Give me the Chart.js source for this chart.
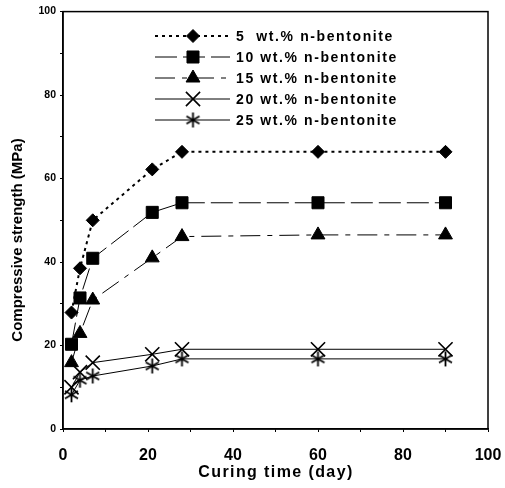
<!DOCTYPE html>
<html>
<head>
<meta charset="utf-8">
<script src="https://cdn.jsdelivr.net/npm/chart.js@4.4.1/dist/chart.umd.min.js"></script>
<style>
  html, body { margin: 0; padding: 0; background: #fff; }
  #wrap { width: 505px; height: 488px; }
</style>
</head>
<body>
<div id="wrap"><canvas id="strengthChart" width="505" height="488"></canvas></div>
<script>
// Curing time (days) and compressive strength (MPa) per n-bentonite dose
const days = [2, 4, 7, 21, 28, 60, 90];
const labels = ['5  wt.% n-bentonite', '10 wt.% n-bentonite', '15 wt.% n-bentonite', '20 wt.% n-bentonite', '25 wt.% n-bentonite'];
const s5 = [27.9, 38.5, 50.0, 62.2, 66.4, 66.4, 66.4];
const s10 = [20.3, 31.4, 40.9, 51.9, 54.2, 54.2, 54.2];
const s15 = [15.9, 22.9, 30.9, 41.0, 46.1, 46.5, 46.5];
const s20 = [10.0, 13.6, 15.9, 17.9, 19.1, 19.1, 19.1];
const s25 = [8.2, 11.7, 12.7, 15.1, 16.8, 16.8, 16.8];
const xTitle = 'Curing time (day)';
const yTitle = 'Compressive strength (MPa)';

const FONT = '"Liberation Sans", Arial, sans-serif';

// asterisk marker (6 rays)
const star = document.createElement('canvas');
star.width = 17; star.height = 17;
(function () {
    const c = star.getContext('2d');
    c.strokeStyle = '#000';
    c.lineWidth = 1.8;
    c.beginPath();
    for (let k = 0; k < 3; k++) {
        const a = Math.PI / 2 + k * Math.PI / 3;
        c.moveTo(8.5 + Math.cos(a) * 7.5, 8.5 + Math.sin(a) * 7.5);
        c.lineTo(8.5 - Math.cos(a) * 7.5, 8.5 - Math.sin(a) * 7.5);
    }
    c.stroke();
})();

const pts = arr => arr.map((v, i) => ({ x: days[i], y: v }));

// plot frame + axis titles
const boxPlugin = {
    id: 'box',
    afterDraw(chart) {
        const { ctx, chartArea: a } = chart;
        ctx.save();
        ctx.strokeStyle = '#000';
        ctx.lineWidth = 1.5;
        ctx.strokeRect(a.left, a.top, a.right - a.left, a.bottom - a.top);

        ctx.fillStyle = '#000';
        ctx.textAlign = 'center';
        ctx.textBaseline = 'alphabetic';
        ctx.font = 'bold 16px ' + FONT;
        ctx.letterSpacing = '1.4px';
        ctx.fillText(xTitle, 276, 477);

        ctx.letterSpacing = '0px';
        ctx.font = 'bold 15px ' + FONT;
        ctx.translate(22, 240);
        ctx.rotate(-Math.PI / 2);
        ctx.fillText(yTitle, 0, 0);
        ctx.restore();
    }
};

const legendPlugin = {
    id: 'lineLegend',
    afterDraw(chart) {
        const ctx = chart.ctx;
        chart.data.datasets.forEach((ds, i) => {
            const y = 36 + i * 21;
            ctx.save();
            ctx.strokeStyle = '#000';
            ctx.fillStyle = '#000';
            ctx.lineWidth = ds.borderWidth;
            ctx.setLineDash(ds.borderDash || []);
            ctx.beginPath();
            ctx.moveTo(155, y);
            ctx.lineTo(230, y);
            ctx.stroke();
            ctx.setLineDash([]);
            ctx.lineWidth = ds.pointBorderWidth;
            Chart.helpers.drawPoint(ctx, {
                pointStyle: ds.pointStyle,
                radius: ds.pointRadius,
                rotation: 0,
                borderWidth: ds.pointBorderWidth
            }, 193, y);
            ctx.font = 'bold 14px ' + FONT;
            ctx.textBaseline = 'middle';
            ctx.letterSpacing = '1.6px';
            ctx.fillText(ds.label, 236, y + 1);
            ctx.restore();
        });
    }
};

const common = {
    borderColor: '#000',
    backgroundColor: '#000',
    pointBackgroundColor: '#000',
    pointBorderColor: '#000',
    showLine: true,
    tension: 0
};

const ctx = document.getElementById('strengthChart').getContext('2d');
const strengthChart = new Chart(ctx, {
    type: 'scatter',
    data: {
        datasets: [
            { ...common, label: labels[0], data: pts(s5), borderWidth: 2, borderDash: [3, 4], pointStyle: 'rectRot', pointRadius: 6.5, pointBorderWidth: 1 },
            { ...common, label: labels[1], data: pts(s10), borderWidth: 1, borderDash: [22, 6], pointStyle: 'rect', pointRadius: 8.5, pointBorderWidth: 1 },
            { ...common, label: labels[2], data: pts(s15), borderWidth: 1, borderDash: [20, 7, 5, 7], pointStyle: 'triangle', pointRadius: 8, pointBorderWidth: 1 },
            { ...common, label: labels[3], data: pts(s20), borderWidth: 1, pointStyle: 'crossRot', pointRadius: 10, pointBorderWidth: 1.6 },
            { ...common, label: labels[4], data: pts(s25), borderWidth: 1, pointStyle: star, pointRadius: 8, pointBorderWidth: 1 }
        ]
    },
    options: {
        responsive: false,
        animation: false,
        layout: { padding: { left: 0, top: 10, right: 0, bottom: 0 } },
        plugins: {
            legend: { display: false },
            tooltip: { enabled: false }
        },
        scales: {
            x: {
                type: 'linear',
                min: 0,
                max: 100,
                afterFit(scale) { scale.height = 59; scale.paddingRight = 17; },
                border: { color: '#000', width: 1.5 },
                grid: { drawOnChartArea: false, drawTicks: true, tickLength: 3, color: '#000' },
                ticks: {
                    stepSize: 10,
                    autoSkip: false,
                    maxRotation: 0,
                    color: '#000',
                    padding: 14,
                    font: { family: FONT, size: 16, weight: 'bold' },
                    callback: v => (v % 20 === 0 ? v : '')
                }
            },
            y: {
                min: 0,
                max: 100,
                afterFit(scale) { scale.width = 63; },
                border: { color: '#000', width: 1.5 },
                grid: { drawOnChartArea: false, drawTicks: true, tickLength: 3, color: '#000' },
                ticks: {
                    stepSize: 10,
                    autoSkip: false,
                    color: '#000',
                    padding: 4,
                    font: { family: FONT, size: 10.5, weight: 'bold' },
                    callback: v => (v % 20 === 0 ? v : '')
                }
            }
        }
    },
    plugins: [boxPlugin, legendPlugin]
});
</script>
</body>
</html>
